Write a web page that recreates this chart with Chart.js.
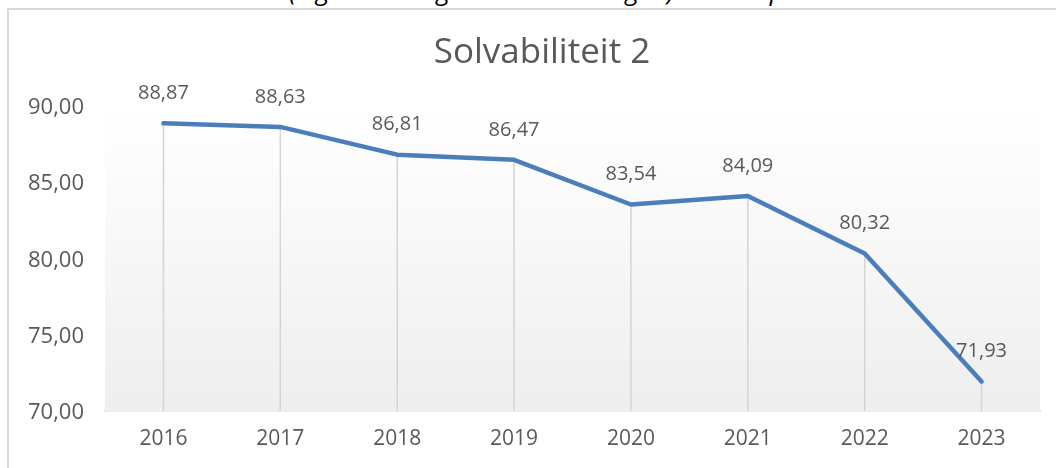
<!DOCTYPE html>
<html>
<head>
<meta charset="utf-8">
<script src="https://cdn.jsdelivr.net/npm/chart.js@4"></script>
<style>
  html, body { margin: 0; padding: 0; background: #fff; overflow: hidden; }
  #wrap { position: relative; width: 1056px; height: 468px; overflow: hidden; }
  #note { position: absolute; left: -24px; top: -28px; white-space: nowrap;
          font: italic 26px "Open Sans", sans-serif; color: #000; }
  #frame { position: absolute; left: 7px; top: 8px; width: 1100px; height: 500px;
           border-left: 2px solid #d9d9d9; border-top: 2px solid #d9d9d9; }
  canvas { position: absolute; left: 0; top: 0; }
</style>
</head>
<body>
<div id="wrap">
  <div id="note">Solvabiliteit 2 berekend als (eigen vermogen + voorzieningen) / totale passiva x 100</div>
  <div id="frame"></div>
  <canvas id="chart" width="1056" height="468"></canvas>
</div>
<script>
const years = ['2016', '2017', '2018', '2019', '2020', '2021', '2022', '2023'];
const solvabiliteit = [88.87, 88.63, 86.81, 86.47, 83.54, 84.09, 80.32, 71.93];
const yTicks = [70, 75, 80, 85, 90];
const chartTitle = 'Solvabiliteit 2';

const fmt = v => v.toFixed(2).replace('.', ',');
const textColor = '#595959';
const fontFamily = '"Open Sans", sans-serif';

// background gradient, drop lines, value labels and the title
const excelLook = {
    id: 'excelLook',
    beforeDatasetsDraw(chart) {
        const {ctx, chartArea: a, scales} = chart;
        ctx.save();
        const g = ctx.createLinearGradient(0, a.top, 0, a.bottom);
        g.addColorStop(0, 'rgba(255,255,255,1)');
        g.addColorStop(1, '#eeeeee');
        ctx.fillStyle = g;
        ctx.fillRect(a.left, a.top, a.right - a.left, a.bottom - a.top);

        ctx.strokeStyle = '#d4d4d4';
        ctx.lineWidth = 1.5;
        solvabiliteit.forEach((v, i) => {
            const x = scales.x.getPixelForValue(i);
            ctx.beginPath();
            ctx.moveTo(x, scales.y.getPixelForValue(v));
            ctx.lineTo(x, a.bottom);
            ctx.stroke();
        });
        ctx.restore();
    },
    afterDatasetsDraw(chart) {
        const {ctx, scales} = chart;
        ctx.save();
        ctx.font = '20px ' + fontFamily;
        ctx.fillStyle = textColor;
        ctx.textAlign = 'center';
        ctx.textBaseline = 'middle';
        solvabiliteit.forEach((v, i) => {
            const x = scales.x.getPixelForValue(i);
            const y = scales.y.getPixelForValue(v);
            ctx.fillText(fmt(v), x, y - 30);
        });

        // title is centred on the whole Excel chart box, which runs past the window
        ctx.font = '35px ' + fontFamily;
        ctx.textBaseline = 'alphabetic';
        ctx.fillText(chartTitle, 542, 63);
        ctx.restore();
    }
};

new Chart(document.getElementById('chart'), {
    type: 'line',
    data: {
        labels: years,
        datasets: [{
            label: chartTitle,
            data: solvabiliteit,
            borderColor: '#4a7ebb',
            borderWidth: 4.5,
            borderCapStyle: 'round',
            borderJoinStyle: 'round',
            pointRadius: 0,
            tension: 0
        }]
    },
    options: {
        responsive: false,
        animation: false,
        layout: {padding: {top: 106, left: 0, right: 16, bottom: 0}},
        plugins: {
            legend: {display: false},
            tooltip: {enabled: false},
            title: {display: false}
        },
        scales: {
            x: {
                offset: true,
                grid: {display: false, drawTicks: false},
                border: {display: true, color: '#d9d9d9', width: 1.5},
                ticks: {
                    color: textColor,
                    padding: 17,
                    font: {family: fontFamily, size: 21, lineHeight: 1.1}
                }
            },
            y: {
                min: 70,
                max: 90,
                afterBuildTicks: scale => { scale.ticks = yTicks.map(v => ({value: v})); },
                afterFit: scale => { scale.width = 105; },
                grid: {display: false, drawTicks: false},
                border: {display: false},
                ticks: {
                    color: textColor,
                    padding: 21,
                    labelOffset: 2,
                    font: {family: fontFamily, size: 22},
                    callback: v => fmt(v)
                }
            }
        }
    },
    plugins: [excelLook]
});
</script>
</body>
</html>
